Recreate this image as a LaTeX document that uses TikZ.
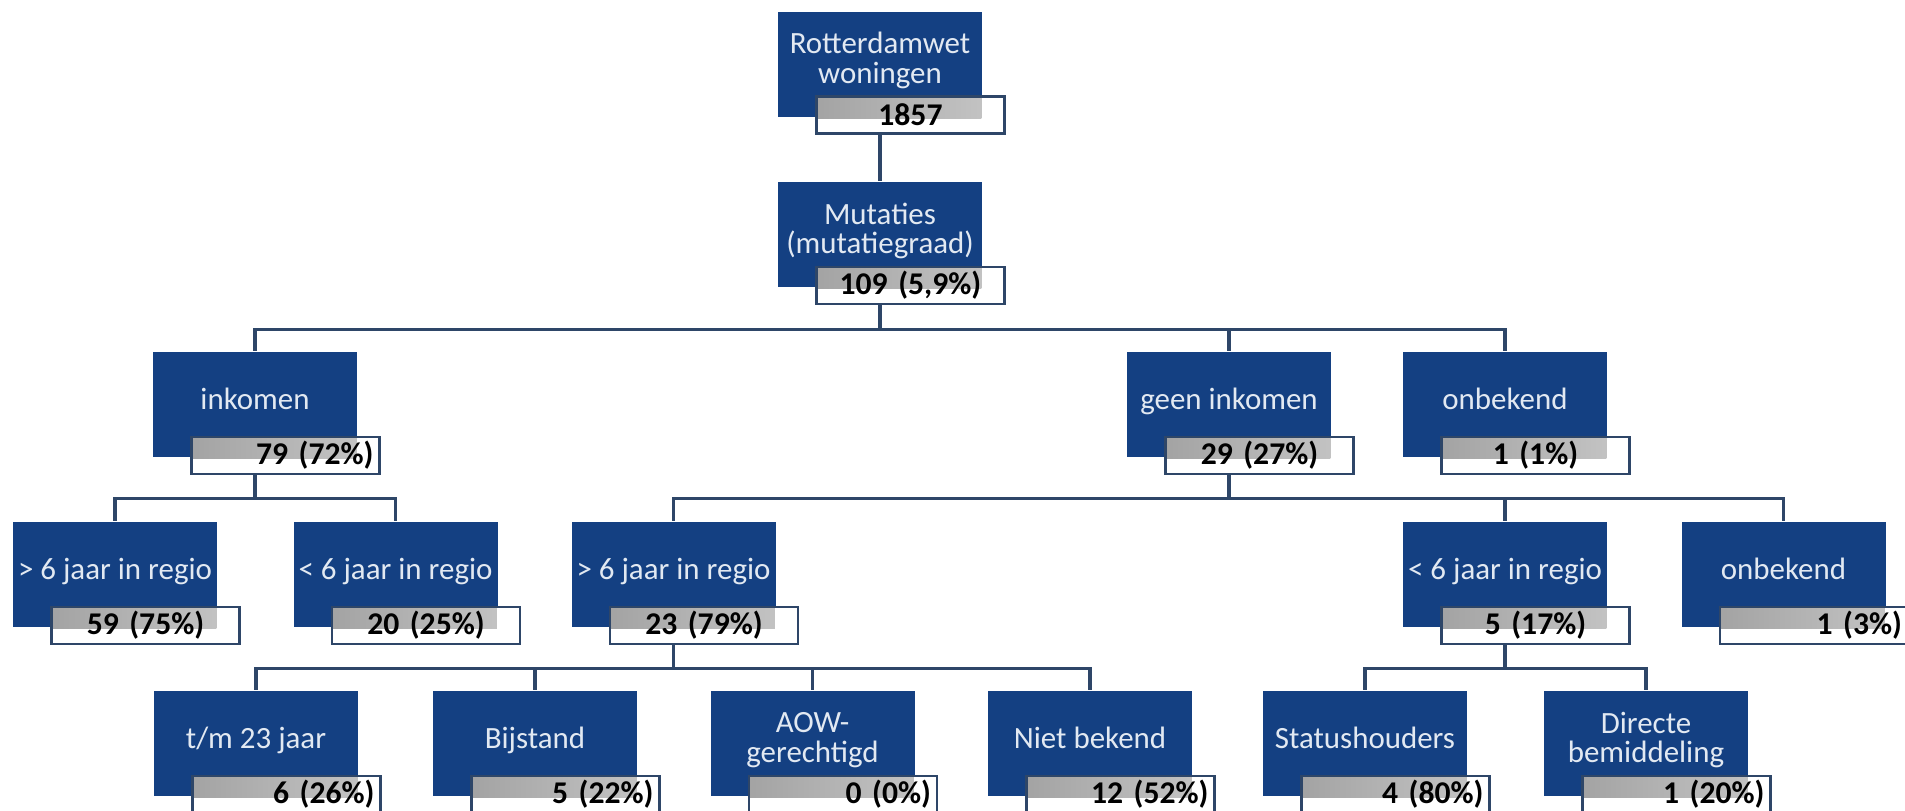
\documentclass[tikz,border=0pt]{standalone}
\usepackage{fontspec}
\setmainfont{Carlito}
\usepackage{tikz}
\usetikzlibrary{positioning, calc}
\definecolor{orgblue}{RGB}{20,64,130}
\definecolor{orgtext}{RGB}{226,233,242}
\definecolor{linecol}{RGB}{46,70,104}
\newcommand\unitfont{\fontsize{8.8}{8.4}\selectfont}
\newcommand\countfont{\fontsize{9}{9}\selectfont\bfseries}
\newcommand\lowstrut{\rule[-3.5pt]{0pt}{0pt}}
\tikzset{
  unit/.style={fill=orgblue, text=orgtext, minimum width=2.04cm, minimum height=1.05cm,
    inner sep=0pt, align=center, font=\unitfont},
  count/.style={draw=linecol, line width=0.7pt, fill=white, minimum width=1.88cm,
    minimum height=0.37cm, inner sep=0pt, text width=1.76cm, font=\countfont,
    path picture={\fill[left color=black!36, right color=black!22]
      (path picture bounding box.north west) rectangle
      ([xshift=-0.23cm, yshift=-0.22cm]path picture bounding box.north east);}},
  countc/.style={count, align=center},
  countr/.style={count, align=right},
  link/.style={draw=linecol, line width=0.9pt}
}

\begin{document}
\begin{tikzpicture}
\useasboundingbox (0,0) rectangle (19.05,-8.10);
\node[unit] (root) at (8.80,-0.64) {Rotterdamwet\\woningen\lowstrut};
\node[countc, anchor=north east] (rootn) at ([shift={(0.23,0.22)}]root.south east) {1857};
\node[unit] (mut) at (8.80,-2.345) {Mutaties\\(mutatiegraad)\lowstrut};
\node[countc, anchor=north east] (mutn) at ([shift={(0.23,0.22)}]mut.south east) {109 (5,9\%)};

\node[unit] (ink) at (2.55,-4.045) {inkomen\lowstrut};
\node[countr, anchor=north east] (inkn) at ([shift={(0.23,0.22)}]ink.south east) {79 (72\%)};
\node[unit] (geen) at (12.29,-4.045) {geen inkomen\lowstrut};
\node[countc, anchor=north east] (geenn) at ([shift={(0.23,0.22)}]geen.south east) {29 (27\%)};
\node[unit] (onb) at (15.05,-4.045) {onbekend\lowstrut};
\node[countc, anchor=north east] (onbn) at ([shift={(0.23,0.22)}]onb.south east) {1 (1\%)};

\node[unit] (inkoud) at (1.15,-5.745) {> 6 jaar in regio\lowstrut};
\node[countc, anchor=north east] (inkoudn) at ([shift={(0.23,0.22)}]inkoud.south east) {59 (75\%)};
\node[unit] (inknieuw) at (3.955,-5.745) {< 6 jaar in regio\lowstrut};
\node[countc, anchor=north east] (inknieuwn) at ([shift={(0.23,0.22)}]inknieuw.south east) {20 (25\%)};
\node[unit] (geenoud) at (6.735,-5.745) {> 6 jaar in regio\lowstrut};
\node[countc, anchor=north east] (geenoudn) at ([shift={(0.23,0.22)}]geenoud.south east) {23 (79\%)};
\node[unit] (geennieuw) at (15.05,-5.745) {< 6 jaar in regio\lowstrut};
\node[countc, anchor=north east] (geennieuwn) at ([shift={(0.23,0.22)}]geennieuw.south east) {5 (17\%)};
\node[unit] (geenonb) at (17.835,-5.745) {onbekend\lowstrut};
\node[countr, anchor=north east] (geenonbn) at ([shift={(0.23,0.22)}]geenonb.south east) {1 (3\%)};

\node[unit] (jong) at (2.56,-7.435) {t/m 23 jaar\lowstrut};
\node[countr, anchor=north east] (jongn) at ([shift={(0.23,0.22)}]jong.south east) {6 (26\%)};
\node[unit] (bijst) at (5.35,-7.435) {Bijstand\lowstrut};
\node[countr, anchor=north east] (bijstn) at ([shift={(0.23,0.22)}]bijst.south east) {5 (22\%)};
\node[unit] (aow) at (8.125,-7.435) {AOW-\\gerechtigd\lowstrut};
\node[countr, anchor=north east] (aown) at ([shift={(0.23,0.22)}]aow.south east) {0 (0\%)};
\node[unit] (nb) at (10.90,-7.435) {Niet bekend\lowstrut};
\node[countr, anchor=north east] (nbn) at ([shift={(0.23,0.22)}]nb.south east) {12 (52\%)};
\node[unit] (status) at (13.65,-7.435) {Statushouders\lowstrut};
\node[countr, anchor=north east] (statusn) at ([shift={(0.23,0.22)}]status.south east) {4 (80\%)};
\node[unit] (direct) at (16.46,-7.435) {Directe\\bemiddeling\lowstrut};
\node[countr, anchor=north east] (directn) at ([shift={(0.23,0.22)}]direct.south east) {1 (20\%)};

\draw[link] (root |- rootn.south) -- (mut.north);
\draw[link] (mut |- mutn.south) -- ++(0,-0.24) -| (ink.north);
\draw[link] (mut |- mutn.south) -- ++(0,-0.24) -| (geen.north);
\draw[link] (mut |- mutn.south) -- ++(0,-0.24) -| (onb.north);
\draw[link] (ink |- inkn.south) -- ++(0,-0.23) -| (inkoud.north);
\draw[link] (ink |- inkn.south) -- ++(0,-0.23) -| (inknieuw.north);
\draw[link] (geen |- geenn.south) -- ++(0,-0.23) -| (geenoud.north);
\draw[link] (geen |- geenn.south) -- ++(0,-0.23) -| (geennieuw.north);
\draw[link] (geen |- geenn.south) -- ++(0,-0.23) -| (geenonb.north);
\draw[link] (geenoud |- geenoudn.south) -- ++(0,-0.23) -| (jong.north);
\draw[link] (geenoud |- geenoudn.south) -- ++(0,-0.23) -| (bijst.north);
\draw[link] (geenoud |- geenoudn.south) -- ++(0,-0.23) -| (aow.north);
\draw[link] (geenoud |- geenoudn.south) -- ++(0,-0.23) -| (nb.north);
\draw[link] (geennieuw |- geennieuwn.south) -- ++(0,-0.23) -| (status.north);
\draw[link] (geennieuw |- geennieuwn.south) -- ++(0,-0.23) -| (direct.north);
\end{tikzpicture}
\end{document}
